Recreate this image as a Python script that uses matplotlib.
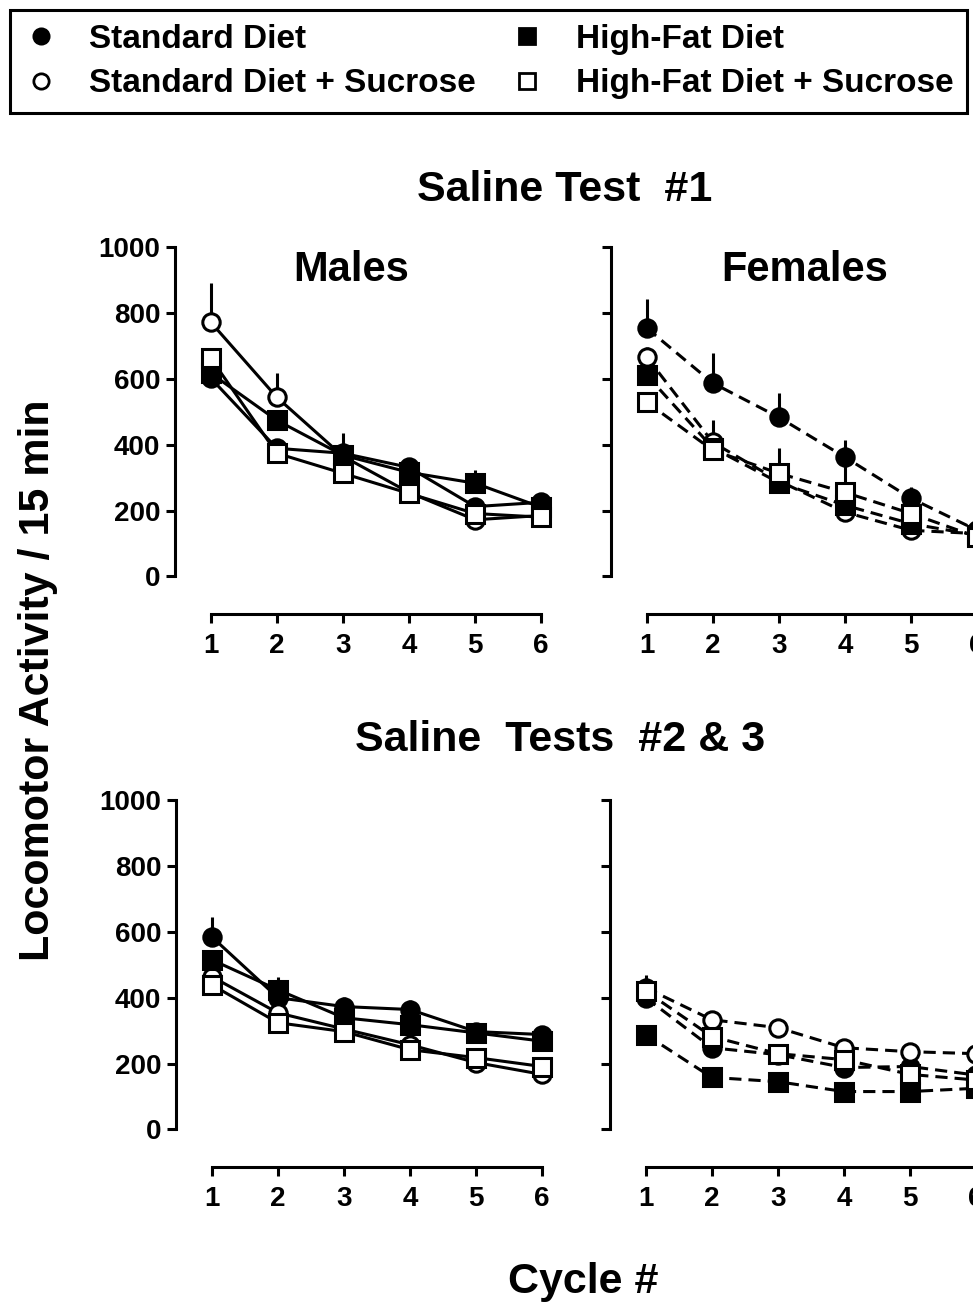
import matplotlib
matplotlib.use("Agg")
import matplotlib.pyplot as plt
from matplotlib.lines import Line2D
import numpy as np

plt.rcParams['font.family'] = ['Liberation Sans', 'DejaVu Sans']
plt.rcParams['font.weight'] = 'bold'

cycles = [1, 2, 3, 4, 5, 6]
groups = ["Standard Diet", "Standard Diet + Sucrose", "High-Fat Diet", "High-Fat Diet + Sucrose"]

# saline test #1, males
m1_sd = [602, 389, 374, 331, 212, 225]
m1_sds = [772, 544, 365, 255, 172, 185]
m1_hf = [617, 474, 368, 316, 283, 210]
m1_hfs = [663, 374, 313, 252, 191, 180]
m1_sd_err = [25, 20, 60, 20, 20, 15]
m1_sds_err = [118, 73, 30, 20, 15, 15]
m1_hf_err = [25, 30, 30, 20, 39, 15]
m1_hfs_err = [30, 20, 20, 20, 15, 15]

# saline test #1, females
f1_sd = [754, 587, 483, 362, 237, 140]
f1_sds = [666, 407, 290, 195, 140, 130]
f1_hf = [611, 390, 285, 216, 160, 125]
f1_hfs = [529, 383, 313, 255, 191, 120]
f1_sd_err = [87, 91, 73, 51, 33, 15]
f1_sds_err = [30, 67, 25, 20, 15, 15]
f1_hf_err = [25, 25, 25, 20, 15, 15]
f1_hfs_err = [25, 20, 76, 100, 40, 15]

# saline tests #2 & 3, males
m2_sd = [585, 400, 373, 364, 297, 288]
m2_sds = [464, 354, 305, 257, 203, 167]
m2_hf = [515, 424, 339, 318, 293, 268]
m2_hfs = [439, 324, 297, 242, 218, 191]
m2_sd_err = [60, 25, 30, 30, 20, 20]
m2_sds_err = [20, 20, 20, 20, 15, 15]
m2_hf_err = [25, 40, 25, 25, 20, 20]
m2_hfs_err = [20, 20, 20, 20, 20, 20]

# saline tests #2 & 3, females
f2_sd = [400, 248, 227, 188, 191, 165]
f2_sds = [430, 333, 309, 248, 236, 230]
f2_hf = [288, 158, 145, 115, 115, 125]
f2_hfs = [420, 282, 230, 212, 167, 150]
f2_sd_err = [20, 15, 15, 15, 15, 15]
f2_sds_err = [40, 20, 20, 20, 15, 15]
f2_hf_err = [15, 15, 15, 15, 15, 15]
f2_hfs_err = [20, 15, 15, 15, 15, 15]

W, H = 973, 1306
fig = plt.figure(figsize=(W / 100, H / 100), dpi=100)

styles = [
    dict(marker='o', mfc='black'),
    dict(marker='o', mfc='white'),
    dict(marker='s', mfc='black'),
    dict(marker='s', mfc='white'),
]


def make_ax(left, bottom_px, top_px, show_labels):
    ax = fig.add_axes([left / W, 1 - bottom_px / H, 386 / W, (bottom_px - top_px) / H])
    ax.set_xlim(0.46, 6.3)
    ax.set_ylim(-114, 1000)
    for s in ['top', 'right']:
        ax.spines[s].set_visible(False)
    ax.spines['left'].set_bounds(0, 1000)
    ax.spines['bottom'].set_bounds(1, 6)
    ax.spines['left'].set_linewidth(2.2)
    ax.spines['bottom'].set_linewidth(2.2)
    ax.set_xticks(cycles)
    ax.set_yticks([0, 200, 400, 600, 800, 1000])
    ax.tick_params(width=2.2, length=6.5, labelsize=20)
    ax.tick_params(axis='x', pad=7)
    ax.tick_params(axis='y', pad=4, labelleft=show_labels)
    for lab in ax.get_xticklabels() + ax.get_yticklabels():
        lab.set_fontweight('bold')
    return ax


def draw(ax, series, errs, dashed):
    for vals, err, st in zip(series, errs, styles):
        ax.errorbar(cycles, vals, yerr=[np.zeros(len(vals)), err], color='black',
                    lw=2.2, elinewidth=2.2, capsize=0, ms=12.5, mec='black', mew=2.2,
                    ls=(0, (4, 2.3)) if dashed else '-', clip_on=False, **st)


ax1 = make_ax(175, 614, 247, True)
draw(ax1, [m1_sd, m1_sds, m1_hf, m1_hfs], [m1_sd_err, m1_sds_err, m1_hf_err, m1_hfs_err], False)
ax1.text(3.12, 930, "Males", ha='center', va='center', fontsize=30, fontweight='bold')

ax2 = make_ax(611, 614, 247, False)
draw(ax2, [f1_sd, f1_sds, f1_hf, f1_hfs], [f1_sd_err, f1_sds_err, f1_hf_err, f1_hfs_err], True)
ax2.text(3.39, 930, "Females", ha='center', va='center', fontsize=30, fontweight='bold')

ax3 = make_ax(176, 1167, 800, True)
draw(ax3, [m2_sd, m2_sds, m2_hf, m2_hfs], [m2_sd_err, m2_sds_err, m2_hf_err, m2_hfs_err], False)

ax4 = make_ax(610, 1167, 800, False)
draw(ax4, [f2_sd, f2_sds, f2_hf, f2_hfs], [f2_sd_err, f2_sds_err, f2_hf_err, f2_hfs_err], True)

fig.text(565 / W, 1 - 190 / H, "Saline Test  #1", ha='center', va='center', fontsize=31, fontweight='bold')
fig.text(560 / W, 1 - 740 / H, "Saline  Tests  #2 & 3", ha='center', va='center', fontsize=31, fontweight='bold')
fig.text(38 / W, 1 - 680 / H, "Locomotor Activity / 15 min", ha='center', va='center',
         rotation=90, fontsize=31, fontweight='bold')
fig.text(583 / W, 1 - 1282 / H, "Cycle #", ha='center', va='center', fontsize=31, fontweight='bold')

handles = [Line2D([], [], ls='none', color='black', mec='black', mew=2, ms=11, **st) for st in styles]
leg = fig.legend(handles, groups, loc='upper left', bbox_to_anchor=(10 / W, 1 - 10 / H),
                 ncol=2, prop={'weight': 'bold', 'size': 24}, frameon=True, fancybox=False,
                 edgecolor='black', framealpha=1, borderaxespad=0, borderpad=0.42,
                 handlelength=1.0, handletextpad=0.95, columnspacing=1.05, labelspacing=0.4)
leg.get_frame().set_linewidth(2.2)

fig.savefig("out.png", dpi=100)
